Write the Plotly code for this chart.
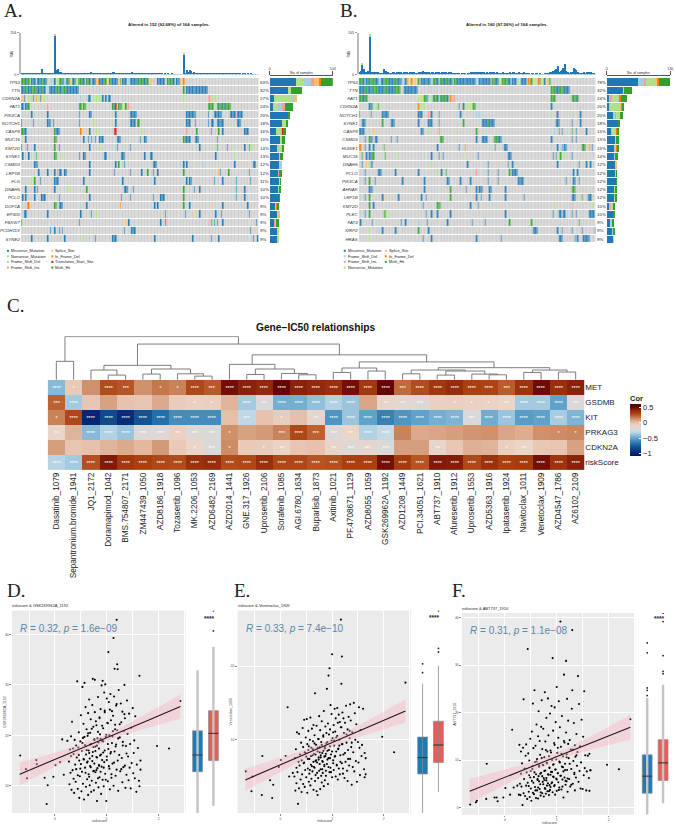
import numpy as np
import plotly.graph_objects as go

W, H = 676, 827

# ---- oncoplot data (runs of sample indexes, letter = mutation type, no letter = missense)
mut_codes = ["M", "N", "D", "I", "S", "F", "T", "H"]
mut_names = ["Missense_Mutation", "Nonsense_Mutation", "Frame_Shift_Del", "Frame_Shift_Ins",
             "Splice_Site", "In_Frame_Del", "Translation_Start_Site", "Multi_Hit"]
mut_colors = ["#1F78B4", "#B2DF8A", "#A6CEE3", "#FB9A99", "#FDBF6F", "#FF7F00", "#E31A1C", "#33A02C"]

genes_a = ["TP53", "TTN", "CDKN2A", "FAT1", "PIK3CA", "NOTCH1", "CASP8", "MUC16", "KMT2D", "SYNE1",
           "CSMD3", "LRP1B", "FLG", "DNAH5", "PCLO", "DOP1A", "EP300", "FBXW7", "PCDH11X", "SYNE2"]
pct_a = [63, 32, 27, 24, 20, 18, 16, 15, 14, 13, 12, 12, 11, 10, 10, 9, 9, 9, 9, 9]
runs_a = [
    "0-2H 3 4-5H 6N 7-9 10D 11-13 14H 15-17 18N 19S 20-22D 23 24-25N 26-27H 28-29 30D 31 32-33H 34S 35-36 37H 38N 39-41H 42-43 44N 45-46H 47 48I 49-51 52S 53F 54-56 57-58H 59N 60S 61-62H 63-66 67S 68H 69N 70-72 73S 74D 75-80 81-83H 84-85 86-87H 88N 89I 90S 91I 94-98 99I 100D 101-104H 105 106N 107-109 110-111S 112F",
    "0-2 3-4H 5-6 7-9H 10-13 14H 15-16 19-23 24-25H 26-27 28-30H 31-39 112H 114-128",
    "0-1S 2 5-7N 8 10F 11-12N 13 14-15S 16N 41D 42N 46-47 48D 50-55N 56 58 59D 60-61 112N 129-130I 131-134N",
    "0 1 2D 3-4 5H 18I 40 41H 42N 43-44H 45N 63H 64 65T 66N 67-68H 69 70-71N 72H 73-74I 113N 129-130H 131-132H 135-136H 137-138 139H 140 141-144H",
    "7 18 40 47-48 65 75-79 114-119 120 129 133-138 144-147 148I 149-152",
    "0 8 18-20 22 40 50N 65 66N 75-77 78 80-81H 114-116 120 129 131-132 135-137 138-139 144N 149-151",
    "0 1H 2-3 23H 24-26 41F 42S 46S 47 51-53N 64-65T 83N 114I 121H 131 135N 136H 139 154-156",
    "0N 3 23-24H 43 46 48 51 54-56 66-68 82 85-86 112-113H 114-116 120-122 135 142N",
    "0 4 9 23H 26 47 54N 66 75 117N 123 131N 135H 142 146N 154 157 158-160N",
    "1 5 10H 23-24H 28N 40 43-44 57-58 69-71 85 89-90 134 147N",
    "9-11 47 65 67H 71 91-93 112 114 117D 122N 125D 137N 147 160-161",
    "12 18 23 25I 26-27 30-31 47 64 75 83 87H 91 94 112H 136S 137 143H 157",
    "7N 9H 13 23-25 43 70 92 114 116-117 133 135N 139 148 158",
    "3 9 11 23 32-33N 45H 71-73 77 112H 119 123 148 154",
    "1 3 9 14-16 26 47 69 75 91 96-98 112H 148 154",
    "4-5F 23-24H 26-28 45 68F 92 94 112H 116 131S 139 156",
    "2-3 18 41 48 52N 99 113 119S 123 134 138 157",
    "0H 40 72S 74 96 99 100I 129I 131H 133 135 139 162",
    "11N 20 23 26 28 71 76-78 158",
    "7 18 30 43N 51 63-65 92 118 131 136 160 163",
]
# counts per gene in order M N D I S F T H
counts_a = [
    [43, 13, 11, 5, 9, 3, 0, 20], [30, 5, 0, 0, 0, 0, 0, 17], [7, 27, 5, 0, 6, 0, 0, 0], [5, 8, 6, 6, 0, 0, 0, 13],
    [30, 1, 0, 0, 0, 0, 0, 2], [20, 7, 0, 0, 0, 0, 0, 3], [10, 9, 0, 1, 0, 1, 1, 5], [18, 1, 0, 0, 0, 0, 0, 6],
    [12, 9, 0, 0, 0, 0, 0, 2], [16, 2, 0, 0, 0, 0, 0, 3], [15, 3, 2, 0, 0, 0, 0, 0], [14, 0, 0, 1, 1, 0, 0, 3],
    [15, 2, 0, 0, 0, 0, 0, 1], [14, 1, 0, 0, 0, 0, 0, 2], [15, 0, 0, 0, 0, 0, 0, 1], [9, 0, 0, 0, 1, 3, 0, 2],
    [13, 1, 0, 0, 1, 0, 0, 0], [7, 0, 0, 2, 1, 1, 0, 3], [13, 1, 0, 0, 0, 0, 0, 0], [13, 1, 0, 0, 0, 0, 0, 0],
]
tmb_a = [4, 8, 9, 7, 10, 8, 6, 9, 10, 7, 6, 8, 9, 11, 26, 8, 9, 8, 7, 5, 6, 7, 8, 190, 22, 28, 15, 12, 10, 9, 8, 7, 9, 8, 7, 6, 7, 6, 5, 6,
         5, 5, 6, 7, 9, 10, 8, 11, 12, 9, 7, 6, 5, 6, 5, 6, 7, 6, 5, 5, 8, 9, 10, 12, 13, 9, 8, 7, 6, 5,
         5, 6, 5, 7, 8, 11, 12, 9, 7, 6, 5, 6, 7, 8, 6, 5, 6, 5, 4, 5, 6, 5, 4, 5, 4, 4, 5, 4, 3, 4, 3, 4, 3, 3, 4, 3, 3, 2, 3, 2, 3, 2, 100,
         7, 24, 16, 22, 18, 10, 16, 6, 5, 8, 6, 7, 8, 5, 6, 5, 5, 4, 6, 5, 7, 6, 5, 6, 5, 4, 5, 8, 7, 9, 11, 8, 7, 6, 7, 5, 4, 5, 5, 3, 4,
         4, 3, 4, 3, 4, 3, 2, 3, 2, 2]
tmb_a_spikes = [23, 112]
tmb_a_caps = [7, 6]

genes_b = ["TP53", "TTN", "FAT1", "CDKN2A", "NOTCH1", "SYNE1", "CASP8", "CSMD3", "HUWE1", "MUC16",
           "DNAH5", "PCLO", "PIK3CA", "AHNAK", "LRP1B", "KMT2D", "PLEC", "FAT3", "XIRP2", "HRAS"]
pct_b = [78, 32, 24, 20, 20, 18, 15, 15, 15, 14, 12, 12, 12, 12, 12, 10, 10, 9, 9, 9]
runs_b = [
    "0 1-2H 3 4D 5-6 7H 8 9-11H 12-13 14D 15-16 17-20H 21-23 24-25H 26-29 30-31D 32 33F 34S 35N 36F 37N 38-39S 40N 41H 43-46 47H 48-49 50D 51-52H 53-54 55I 56-57H 58-59 60-61H 62-64 65N 66-67H 68-72 73-75 76-80 81-82D 83-85 86-90 91S 92-93H 94-96 97-98N 99-102H 103-104 105N 106-108 109-110N 111D 112-115 116N 117-118F 119H 120-122N 123S 124F 125H 126-127N 128 129-130S 131-132H",
    "0-3 4-5H 6-9 10-12H 13-17 18-19H 20-24 25-28H 31-40 133-135H 136-138 139-141H 142-145",
    "0-2H 3 4-5H 41N 42S 43-44N 45-46H 47 48D 49-50N 51 52-53H 54 55N 56-57H 58 59-60H 61 62N 63F 64I 65-66I 133-135H 147-149H 150 151H",
    "0N 7-8 9 10-12N 13 14N 41F 42-45N 67N 69 71S 72 73-78N 79-80H 133",
    "0H 8 16-20 41-43 48-49I 50 55 67D 70 81-84D 133N 136I 137 147N 153",
    "2-4 16H 22-24 41 48-50 55 72H 85-88 89H 90-93 136-138 147 153",
    "0H 1-3 10S 43-44 48N 55F 67N 81H 135D 138H 140 147H 150 154N 157",
    "4 7H 8-9 11-12 22 26 56-58H 81 85-88 93-95H 96-98 133 147 150",
    "0-1F 4 7 10 17H 54 69 73F 94H 100-102 133D 137 140 142-143 154-156H 159F 161",
    "2H 5 7-8 9-10H 18H 27N 42D 50 55 58 73N 82 103-105 134 136H 139H 142N 147",
    "2 5S 7N 8-9 50N 75 89 96S 103 106 137 152 157 160",
    "4 13-15 25 41 54N 57 60H 81I 89 96 104H 106-109 148 151",
    "4 7H 11 30 45 61-62 70 77 89 96 110-113 143 148-149 152",
    "7-9 45 63H 74 81 83-85 90-91 101 136N 147-149H",
    "4 7H 16 18S 27 43 46 63H 81 84 90 101 114 147-149 150N 154H 158-160",
    "7H 10 31D 44 54-56H 77 82 93D 116D 135N 147I 161N",
    "4 7H 17-18H 19-20N 46 50 54 63 101 134 138-139 141-142 147 150 159-162",
    "1 9 29 32 41D 47 61 78 87 100D 104H 118N 119H 152H",
    "7N 13D 16 25 41H 48 120-123 137 140 147 154 163",
    "7N 44 50 81 98 138-140 149 151 155-159",
]
# counts per gene in order M D I N S F H (panel B stacks nonsense later)
order_b = ["M", "D", "I", "N", "S", "F", "H"]
counts_b = [
    [64, 12, 3, 19, 5, 3, 22], [34, 0, 0, 1, 0, 0, 17], [6, 1, 3, 15, 1, 2, 12], [5, 1, 0, 20, 4, 1, 2],
    [12, 5, 2, 8, 0, 0, 6], [23, 0, 0, 0, 0, 0, 3], [9, 1, 0, 9, 1, 2, 3], [17, 0, 0, 1, 0, 0, 6],
    [15, 3, 0, 0, 1, 2, 3], [16, 1, 0, 0, 0, 0, 6], [17, 0, 0, 1, 2, 0, 0], [17, 0, 1, 1, 0, 0, 1],
    [19, 0, 0, 0, 0, 0, 1], [16, 0, 0, 2, 0, 0, 2], [16, 0, 0, 1, 1, 0, 2], [5, 3, 1, 3, 0, 0, 5],
    [13, 0, 0, 0, 0, 0, 4], [8, 2, 0, 1, 0, 0, 4], [12, 1, 0, 1, 0, 0, 1], [13, 0, 0, 1, 0, 0, 0],
]
tmb_b = [8, 10, 26, 14, 8, 6, 9, 96, 7, 6, 5, 6, 7, 6, 5, 5, 5, 14, 9, 8,
         6, 5, 5, 7, 8, 5, 6, 8, 6, 7, 5, 6, 7, 6, 5, 6, 7, 5, 6, 5,
         5, 6, 7, 8, 9, 6, 5, 7, 6, 5, 6, 8, 5, 6, 7, 6, 5, 6, 8, 7,
         6, 5, 6, 7, 5, 4, 3, 4, 3, 3, 2, 3, 4, 3, 2, 3, 5, 7, 8, 7,
         8, 7, 6, 7, 8, 7, 6, 5, 6, 5, 7, 6, 8, 7, 5, 6, 5, 4, 5, 7,
         4, 5, 3, 4, 6, 3, 6, 7, 5, 4, 6, 5, 4, 3, 6, 4, 3, 4, 2, 3,
         3, 2, 3, 4, 2, 3, 2, 2, 3, 3, 3, 4, 6, 8, 10, 12, 14, 22, 8, 10,
         12, 16, 28, 9, 7, 5, 6, 8, 18, 14, 12, 8, 5, 4, 5, 6, 5, 7, 8, 7,
         6, 5, 3, 2]
tmb_b_spikes = [2, 7]
tmb_b_caps = [3, 7]

# ---- heatmap data
drugs = ["Dasatinib_1079", "Sepantronium.bromide_1941", "JQ1_2172", "Doramapimod_1042", "BMS.754807_2171",
         "ZM447439_1050", "AZD8186_1918", "Tozasertib_1096", "MK.2206_1053", "AZD6482_2169", "AZD2014_1441",
         "GNE.317_1926", "Uprosertib_2106", "Sorafenib_1085", "AGI.6780_1634", "Buparlisib_1873", "Axitinib_1021",
         "PF.4708671_1129", "AZD8055_1059", "GSK269962A_1192", "AZD1208_1449", "PCI.34051_1621", "ABT737_1910",
         "Afuresertib_1912", "Uprosertib_1553", "AZD5363_1916", "Ipatasertib_1924", "Navitoclax_1011",
         "Venetoclax_1909", "AZD4547_1786", "AZ6102_2109"]
heat_genes = ["MET", "GSDMB", "KIT", "PRKAG3", "CDKN2A", "riskScore"]
cor_met = [-.42, -.05, .12, .27, .25, .12, .17, .15, .28, .24, .47, .42, .40, .50, .42, .40, .37, .47, .33, .50, .20, .27, .33, .38, .30, .29, .23, .35, .48, .37, .42]
cor_gsdmb = [.22, -.36, -.03, .08, -.02, -.03, .06, -.06, -.08, -.07, .03, -.36, -.20, -.46, -.46, -.40, -.33, -.38, .07, -.12, -.15, -.18, -.08, -.07, -.08, -.09, -.10, -.36, -.36, -.50, -.20]
cor_kit = [.15, .28, -.98, -.82, -.95, -.78, -.68, -.58, -.58, -.58, 0, -.30, -.02, -.06, 0, -.14, -.55, -.38, -.50, -.62, -.55, -.50, -.46, -.44, -.20, -.47, -.38, -.52, -.50, -.35, -.44]
cor_prkag3 = [-.10, .03, -.42, -.33, -.38, -.18, -.18, -.08, -.18, -.20, .12, .08, .10, .15, .28, .22, -.18, -.10, -.33, -.28, .15, .06, .07, .09, .11, .12, .07, .05, .12, .13, .14]
cor_cdkn2a = [.09, -.03, -.01, .03, .06, .02, .10, -.05, -.10, -.20, .13, -.05, -.06, -.09, -.03, -.01, -.12, -.17, -.14, -.20, .09, .09, -.12, -.04, .04, .03, -.07, -.10, -.04, -.03, .08]
cor_risk = [-.32, -.36, .26, .44, .33, .30, .28, .27, .36, .38, .27, .28, .37, .28, .28, .25, .26, .30, .30, .47, .32, .25, .44, .43, .28, .36, .30, .32, .47, .35, .42]
stars_met = [4, 1, 0, 4, 3, 0, 1, 1, 4, 3, 4, 4, 4, 4, 4, 4, 4, 4, 4, 4, 3, 4, 4, 4, 4, 4, 3, 4, 4, 4, 4]
stars_gsdmb = [3, 4, 0, 0, 0, 0, 0, 0, 1, 1, 0, 4, 2, 4, 4, 4, 4, 4, 0, 2, 2, 3, 0, 1, 1, 1, 2, 4, 4, 4, 3]
stars_kit = [1, 4, 4, 4, 4, 4, 4, 4, 4, 4, 0, 3, 0, 1, 0, 2, 4, 4, 4, 4, 4, 4, 4, 4, 3, 4, 4, 4, 4, 4, 4]
stars_prkag3 = [2, 0, 4, 4, 4, 3, 3, 2, 3, 3, 1, 0, 0, 3, 4, 3, 3, 2, 4, 4, 0, 0, 0, 0, 0, 0, 0, 0, 0, 1, 1]
stars_cdkn2a = [0, 0, 0, 0, 0, 0, 0, 0, 1, 3, 1, 0, 1, 2, 0, 0, 2, 3, 3, 3, 0, 0, 2, 0, 0, 0, 1, 2, 0, 0, 0]
stars_risk = [4] * 31
cor_ticks = [-1, -0.5, 0, 0.5]
cor_tick_text = ["\u22121", "\u22120.5", "0", "0.5"]
# dendrogram merges (left node, right node, height); new nodes are numbered from 31
dendro_merges = [
    (0, 1, 18.3), (3, 4, 4.7), (2, 32, 9.7), (5, 6, 5.7), (8, 9, 3.7), (7, 35, 6), (34, 36, 10.7), (33, 37, 14.3),
    (11, 12, 5.3), (14, 15, 5), (13, 40, 6.3), (39, 41, 10.7), (10, 42, 15.3), (16, 17, 7.3), (18, 19, 8.7),
    (44, 45, 11.7), (20, 21, 6), (22, 23, 4.7), (25, 26, 5), (24, 49, 5.7), (48, 50, 8.7), (47, 51, 9.7),
    (27, 28, 7.3), (29, 30, 7.7), (53, 54, 9.7), (52, 55, 12), (46, 56, 17.7), (43, 57, 24.7), (38, 58, 35.3), (31, 59, 42.7),
]

# ---- scatter data, the same samples on x in D, E and F
riskscore = [-.67, -.56, -.54, -.36, -.35, -.2, -.16, -.14, -.03, .01, .1, .14, .17, .24,
             .27, .28, .29, .30, .31, .31, .32, .33, .34, .35, .36, .36, .37, .38, .39, .40, .41, .41, .42, .43,
             .44, .44, .45, .46, .47, .47, .48, .49, .50, .50, .51, .52, .52, .53, .54, .54, .55, .56, .56, .57,
             .58, .58, .59, .60, .60, .61, .62, .62, .63, .64, .64, .65, .65, .66, .67, .67, .68, .68, .69, .70,
             .70, .71, .72, .72, .73, .73, .74, .75, .75, .76, .77, .77, .78, .78, .79, .80, .80, .81, .82, .82,
             .83, .84, .84, .85, .86, .86, .87, .87, .88, .89, .90, .90, .91, .92, .92, .93, .93, .94, .95, .95,
             .96, .97, .97, .98, .99, 1.0, 1.0, 1.01, 1.02, 1.03, 1.03, 1.04, 1.05, 1.05, 1.06, 1.07, 1.07, 1.08, 1.09, 1.1,
             1.1, 1.11, 1.12, 1.13, 1.13, 1.14, 1.15, 1.15, 1.16, 1.17, 1.18, 1.18, 1.19, 1.19, 1.2, 1.2, 1.21, 1.22, 1.23, 1.24,
             1.25, 1.26, 1.27, 1.28, 1.29, 1.3, 1.3, 1.31, 1.32, 1.33, 1.34, 1.35, 1.35, 1.36, 1.37, 1.38, 1.39, 1.4, 1.41, 1.42,
             1.43, 1.44, 1.45, 1.46, 1.47, 1.48, 1.5, 1.51, 1.52, 1.53, 1.54, 1.55, 1.57, 1.58, 1.6, 1.62, 1.63, 1.63, 1.65, 1.65,
             1.97, 2.2, 2.42,
             .46, .49, .53, .55, .57, .59, .61, .63, .64, .66, .66, .68, .69, .71, .72, .74, .74, .76, .76, .78,
             .79, .8, .81, .81, .83, .83, .85, .85, .86, .88, .88, .89, .91, .91, .93, .94, .96, .96, .98, .99,
             1.0, 1.02, 1.02, 1.04, 1.06, 1.08, 1.09, 1.11, 1.12, 1.14, 1.16, 1.17, 1.19, 1.21, 1.22, 1.25, 1.28, 1.31, 1.34, 1.38]
gsk269962a = [16.0, 13.3, 11.5, 15.1, 14.3, 11.6, 6.4, 10.1, 11.8, 14.1, 14.7, 19.2, 12.2, 18.9,
              14.8, 10.3, 17.2, 12.6, 19.8, 15.9, 9.2, 22.7, 13.1, 17.4, 11.4, 16.3, 8.6, 19.1, 14.2, 10.8, 18.0, 13.3, 15.6, 30.7,
              12.1, 9.4, 17.6, 20.6, 15.0, 7.6, 11.9, 18.8, 14.3, 24.0, 8.9, 16.9, 12.8, 29.6, 19.5, 10.4, 22.3, 15.2, 7.3, 30.4,
              13.6, 18.1, 25.6, 9.8, 16.2, 21.2, 11.3, 14.6, 19.9, 8.2, 24.4, 12.3, 17.0, 27.1, 15.4, 10.1, 20.5, 13.9, 23.2, 8.8,
              18.3, 11.0, 26.0, 14.9, 16.7, 31.2, 21.7, 9.1, 13.0, 19.2, 31.0, 24.6, 12.7, 17.8, 10.6, 22.0, 15.7, 7.0, 19.4, 13.5,
              27.6, 9.7, 18.6, 14.1, 23.6, 11.7, 20.2, 16.0, 25.2, 8.4, 13.8, 29.9, 18.9, 30.8, 11.2, 21.4, 16.6, 9.9, 28.5, 14.7,
              24.9, 30.1, 12.4, 19.7, 7.0, 27.3, 15.1, 22.5, 10.9, 36.5, 17.3, 26.6, 13.4, 20.0, 9.3, 28.2, 16.4, 23.0, 11.6, 18.5,
              24.8, 14.4, 20.8, 39.3, 10.0, 27.7, 33.2, 16.8, 22.1, 12.0, 25.9, 18.2, 42.9, 13.2, 34.1, 21.0, 33.1, 9.0, 29.0, 16.1,
              19.6, 12.9, 26.3, 22.6, 15.5, 10.7, 24.7, 18.7, 13.7, 20.9, 30.0, 14.0, 23.4, 9.6, 17.9, 12.2, 26.9, 20.3, 15.8, 11.1,
              24.3, 13.6, 18.3, 9.5, 21.5, 14.5, 25.4, 12.5, 16.5, 19.0, 11.5, 23.8, 8.8, 14.2, 17.5, 11.0, 31.8, 9.9, 15.0, 13.2,
              17.9, 17.4, 26.8,
              16.1, 13.4, 18.5, 15.3, 19.7, 12.6, 17.1, 14.8, 20.4, 16.5, 11.8, 18.2, 13.7, 21.3, 15.9, 17.7, 12.9, 19.1, 14.4, 16.9,
              22.8, 13.1, 18.0, 15.6, 20.7, 11.5, 17.4, 14.0, 23.4, 19.3, 12.8, 16.2, 21.9, 15.1, 18.8, 13.6, 24.6, 17.0, 11.2, 20.1,
              15.8, 22.4, 18.3, 13.9, 25.1, 16.7, 12.3, 19.8, 23.9, 14.6, 21.2, 17.8, 26.2, 15.0, 19.4, 22.2, 13.3, 18.0, 24.2, 16.4]
venetoclax = [5.7, 3.0, 5.0, 2.5, 7.8, 4.5, 2.1, 3.9, 6.3, 7.25, 7.8, 14.4, 5.0, 5.5,
              5.0, 7.5, 3.1, 8.7, 6.2, 4.1, 11.0, 5.6, 1.3, 7.0, 3.4, 10.8, 6.5, 8.0, 4.6, 9.6, 2.9, 7.2, 5.3, 11.6,
              4.0, 9.0, 6.8, 12.7, 3.6, 8.3, 5.9, 10.3, 7.7, 4.9, 12.8, 2.8, 9.4, 6.1, 8.6, 11.2, 4.3, 7.4, 5.4, 10.0,
              3.8, 13.0, 6.6, 8.9, 4.7, 11.5, 7.9, 5.7, 9.8, 3.2, 12.0, 6.3, 8.1, 10.6, 4.4, 16.3, 7.1, 5.2, 9.3, 3.0,
              11.9, 6.9, 8.4, 2.5, 10.1, 4.8, 7.3, 13.2, 5.8, 9.0, 3.3, 11.3, 7.6, 6.0, 9.7, 4.2, 12.5, 8.2, 5.5, 7.0,
              10.4, 3.7, 13.9, 6.4, 8.8, 4.5, 11.8, 7.8, 5.1, 9.5, 16.9, 6.7, 8.5, 12.2, 4.0, 18.7, 7.5, 10.7, 5.6, 19.7,
              9.1, 14.7, 6.2, 8.0, 13.5, 21.6, 4.9, 10.2, 7.2, 12.0, 5.9, 9.9, 14.2, 7.7, 11.1, 5.0, 12.9, 8.4, 6.6, 14.3,
              10.5, 4.6, 8.7, 13.4, 6.1, 9.2, 12.4, 5.3, 7.9, 26.3, 17.6, 11.7, 21.3, 6.8, 9.4, 13.7, 5.4, 8.0, 10.9, 4.8,
              12.3, 7.0, 14.6, 9.6, 5.8, 11.4, 4.4, 8.6, 13.1, 6.5, 10.2, 14.8, 7.4, 12.6, 9.0, 3.9, 11.0, 6.3, 8.3, 15.0,
              5.7, 13.6, 10.0, 7.1, 12.1, 4.3, 9.7, 6.9, 14.4, 8.9, 5.2, 11.3, 7.8, 9.3, 14.2, 6.0, 8.2, 4.9, 5.3, 7.5,
              10.4, 8.3, 17.75,
              6.9, 8.2, 7.4, 9.1, 5.9, 7.8, 6.4, 8.7, 7.0, 9.5, 6.2, 8.0, 7.2, 5.5, 8.9, 7.6, 10.1, 6.7, 8.3, 7.9,
              5.1, 9.3, 7.1, 6.0, 8.5, 10.6, 7.7, 6.6, 9.0, 5.8, 8.1, 10.9, 7.3, 9.7, 6.3, 8.6, 11.4, 7.5, 5.6, 9.9,
              8.4, 6.8, 11.0, 9.2, 7.8, 10.3, 6.5, 12.3, 8.8, 10.0, 7.0, 11.7, 9.4, 6.1, 12.9, 8.2, 10.7, 7.4, 11.2, 9.6]
abt737 = [0.6, 1.1, 1.4, 1.8, 9.2, 2.1, 2.1, 1.3, 2.1, 4.1, 2.7, 16.4, 4.2, 4.6,
          2.7, 13.2, 5.0, 2.6, 11.8, 7.1, 4.4, 9.3, 0.5, 12.6, 3.0, 22.8, 6.0, 8.2, 2.4, 10.9, 4.6, 13.3, 7.4, 1.8,
          33.4, 5.2, 11.4, 3.3, 9.9, 6.8, 2.2, 14.5, 4.0, 7.7, 1.4, 16.0, 5.6, 8.7, 3.1, 21.9, 12.5, 2.8, 6.4, 24.7,
          9.6, 4.3, 13.0, 2.0, 7.0, 17.5, 3.6, 10.2, 5.8, 15.0, 1.9, 20.3, 6.6, 8.9, 3.9, 14.0, 11.1, 4.9, 2.5, 17.0,
          7.3, 22.6, 3.0, 12.3, 5.4, 9.0, 16.6, 2.3, 6.2, 10.6, 24.3, 4.1, 13.9, 7.8, 2.9, 18.9, 5.7, 9.4, 3.4, 11.8,
          23.0, 6.9, 15.2, 2.6, 8.4, 4.7, 19.8, 3.7, 12.0, 7.5, 5.1, 21.4, 10.0, 31.5, 3.2, 16.2, 6.5, 9.1, 4.5, 13.6,
          21.1, 2.7, 8.0, 18.0, 6.1, 25.4, 3.5, 11.5, 7.2, 14.7, 5.3, 22.4, 9.7, 4.2, 16.9, 39.2, 6.7, 12.8, 3.8, 8.6,
          19.3, 5.9, 10.8, 7.6, 2.1, 28.0, 13.7, 6.3, 9.2, 4.8, 30.9, 15.8, 5.5, 11.2, 22.9, 7.9, 3.3, 18.3, 10.4, 6.0,
          14.2, 4.4, 12.2, 8.1, 20.8, 37.4, 24.7, 5.0, 9.8, 17.8, 7.0, 13.1, 3.6, 10.7, 6.3, 15.5, 8.8, 11.7, 27.7, 5.4,
          21.8, 7.7, 12.9, 4.0, 9.5, 18.5, 3.9, 14.9, 6.8, 24.5, 8.3, 11.0, 3.6, 7.6, 10.9, 6.2, 11.3, 3.5, 7.8, 7.9,
          9.0, 8.05, 18.6,
          4.5, 6.3, 8.1, 5.2, 7.4, 3.6, 9.7, 6.0, 4.2, 8.6, 5.5, 7.1, 3.2, 10.4, 6.6, 4.9, 8.9, 5.8, 7.7, 3.9,
          12.1, 6.2, 4.6, 9.3, 7.0, 5.1, 10.8, 3.4, 8.3, 6.9, 4.3, 11.6, 7.5, 5.3, 9.0, 6.4, 13.2, 4.7, 8.0, 10.1,
          5.9, 7.2, 12.6, 3.7, 9.5, 6.7, 11.3, 4.4, 8.5, 14.0, 7.9, 5.6, 10.6, 6.1, 13.4, 9.2, 4.8, 12.2, 7.3, 11.0]
# regression line and confidence band
reg_x = [-.68, 0, .5, .9, 1.3, 1.8, 2.42]
reg_d = [12.3, 15.2, 17.4, 19.1, 20.85, 23.0, 25.7]
ci_d = [2.3, 1.4, .85, .75, .9, 1.5, 2.4]
reg_e = [4.55, 6.6, 8.1, 9.3, 10.5, 12.0, 13.9]
ci_e = [1.5, 1.0, .6, .55, .65, 1.05, 1.55]
reg_f = [3.4, 6.35, 8.5, 10.3, 12.0, 14.2, 16.9]
ci_f = [2.6, 1.6, 1.0, .85, 1.0, 1.6, 2.6]
# box stats: lower fence, q1, median, q3, upper fence (low group, high group)
box_d = [[4.6, 12.8, 16.1, 20.9, 32.9], [6.05, 15.0, 20.4, 24.9, 37.5]]
box_e = [[0.05, 5.36, 7.57, 10.36, 17.6], [2.9, 6.9, 9.28, 12.5, 20.05]]
box_f = [[-1.5, 3.0, 6.6, 11.1, 23.1], [0.9, 5.7, 9.4, 14.3, 25.9]]
out_d = [[], [40.7, 44.7]]
out_e = [[19.1, 20.3], [21.9, 22.4, 27.5]]
out_f = [[23.6, 24.7, 25.2, 32.6, 34.7], [28.2, 28.7, 32.0, 39.2, 41.0]]

fig = go.Figure()
layout = {}
notes = []
rects = []
n_axes = 0


def new_axes(x0, y0, x1, y1, xkw, ykw):
    # x0..y1 are page pixels from the top left corner
    global n_axes
    n_axes += 1
    s = "" if n_axes == 1 else str(n_axes)
    layout["xaxis" + s] = dict(domain=[x0 / W, x1 / W], anchor="y" + s, **xkw)
    layout["yaxis" + s] = dict(domain=[1 - y1 / H, 1 - y0 / H], anchor="x" + s, **ykw)
    return "x" + s, "y" + s


def note(x, y, text, size, color="#222222", anchor="left", family=None, angle=0):
    font = dict(size=size, color=color)
    if family:
        font["family"] = family
    notes.append(dict(x=x / W, y=1 - y / H, xref="paper", yref="paper", text=text, showarrow=False, font=font,
                      xanchor=anchor, yanchor="middle", textangle=angle, borderpad=0, borderwidth=0))


OFF = dict(visible=False, showgrid=False, zeroline=False)


def parse_runs(text):
    row = [0] * 164
    for tok in text.split():
        code = "M"
        if tok[-1].isalpha():
            code = tok[-1]
            tok = tok[:-1]
        a, _, b = tok.partition("-")
        for i in range(int(a), int(b or a) + 1):
            row[i] = mut_codes.index(code) + 1
    return row


def draw_onco(x0, x1, rx0, rx1, genes, pct, runs, counts, order, tmb, spikes, caps, cap_color, tmb_max, right_max):
    # sample burden bars on top
    xa, ya = new_axes(x0, 30.7, x1, 72.7, dict(range=[-0.5, 163.5], **OFF),
                      dict(range=[0, tmb_max], tickvals=[0, tmb_max], ticks="outside", ticklen=2, tickcolor="#999999",
                           tickfont=dict(size=3.6, color="#333333"), showline=True, linecolor="#bbbbbb", linewidth=1.6,
                           showgrid=False, zeroline=False))
    fig.add_trace(go.Bar(x=list(range(164)), y=tmb, marker=dict(color=mut_colors[0], line_width=0), width=1, xaxis=xa, yaxis=ya))
    fig.add_trace(go.Bar(x=spikes, y=caps, base=[tmb[i] for i in spikes], marker=dict(color=cap_color, line_width=0), width=1, xaxis=xa, yaxis=ya))

    # mutation matrix
    stops = []
    cols = ["#CCCCCC"] + mut_colors
    for i, c in enumerate(cols):
        stops += [[i / len(cols), c], [(i + 1) / len(cols), c]]
    xm, ym = new_axes(x0, 76.3, x1, 242.5, dict(range=[-0.5, 163.5], **OFF),
                      dict(range=[19.5, -0.5], tickvals=list(range(20)), ticktext=["<i>%s</i>" % g for g in genes],
                           tickfont=dict(size=4.4, color="#333333"), ticks="", ticklen=0, showgrid=False, zeroline=False, showline=False))
    fig.add_trace(go.Heatmap(z=[parse_runs(r) for r in runs], zmin=-0.5, zmax=8.5, colorscale=stops, showscale=False,
                             xgap=0.3, ygap=1, hoverinfo="skip", xaxis=xm, yaxis=ym))
    for i, p in enumerate(pct):
        note(x1 + 1.5, 76.3 + (i + 0.5) * 8.31, "%d%%" % p, 4.4)

    # stacked counts on the right
    xr, yr = new_axes(rx0, 74, rx1, 242.5,
                      dict(range=[0, right_max], side="top", tickvals=[0, right_max], ticks="outside", ticklen=3.5, tickcolor="#555555",
                           tickfont=dict(size=3.6, color="#333333"), showline=True, linecolor="#555555", linewidth=0.6, showgrid=False, zeroline=False),
                      dict(range=[19.5, -0.74], visible=False, showgrid=False, zeroline=False))
    for j, code in enumerate(order):
        fig.add_trace(go.Bar(x=[row[j] for row in counts], y=list(range(20)), orientation="h", width=0.88,
                             marker=dict(color=mut_colors[mut_codes.index(code)], line_width=0), xaxis=xr, yaxis=yr))
    note((rx0 + rx1) / 2, 71.3, "No. of samples", 3.4, anchor="center")


def legend_block(x, y_start, entries):
    for i, code in enumerate(entries):
        y = y_start + i * 5.6
        rects.append(dict(type="rect", xref="paper", yref="paper", x0=(x - 1) / W, x1=(x + 1) / W,
                          y0=1 - (y + 1) / H, y1=1 - (y - 1) / H, line_width=0, fillcolor=mut_colors[mut_codes.index(code)]))
        note(x + 3, y, mut_names[mut_codes.index(code)], 3.9)


# ---- A and B
draw_onco(19, 258.5, 269.7, 333.3, genes_a, pct_a, runs_a, counts_a, mut_codes, tmb_a, tmb_a_spikes, tmb_a_caps, "#FDBF6F", 204, 104)
draw_onco(359.3, 598.3, 609.3, 673.3, genes_b, pct_b, runs_b, counts_b, order_b, tmb_b, tmb_b_spikes, tmb_b_caps, "#B2DF8A", 105, 130)
note(168, 22.7, "<b>Altered in 152 (92.68%) of 164 samples.</b>", 4.4, anchor="center")
note(508.7, 22.7, "<b>Altered in 160 (97.56%) of 164 samples.</b>", 4.4, anchor="center")
note(10, 52, "TMB", 3.2, anchor="center", angle=-90)
note(349.5, 52, "TMB", 3.2, anchor="center", angle=-90)
legend_block(6, 250, ["M", "N", "D", "I"])
legend_block(50.7, 250, ["S", "F", "T", "H"])
legend_block(345.3, 250, ["M", "D", "I", "N"])
legend_block(386.7, 250, ["S", "F", "H"])

# ---- C heatmap
cor = [cor_met, cor_gsdmb, cor_kit, cor_prkag3, cor_cdkn2a, cor_risk]
stars = [[("*" * s) for s in row] for row in [stars_met, stars_gsdmb, stars_kit, stars_prkag3, stars_cdkn2a, stars_risk]]
zlo, zhi = -1.07, 0.6
cor_colors = [(-1.07, "#04155c"), (-1, "#04226f"), (-.8, "#114e8e"), (-.7, "#1f6aa5"), (-.6, "#3f86b8"), (-.5, "#5fa3cb"), (-.4, "#92c0da"),
              (-.3, "#c0d8e6"), (-.2, "#d9d9d9"), (-.1, "#ebd4c8"), (0, "#e6bfa8"), (.1, "#d39a78"), (.2, "#c06a3a"), (.3, "#a9400f"),
              (.4, "#8f2a0c"), (.5, "#650505"), (.6, "#4f0000")]
cor_scale = [[(v - zlo) / (zhi - zlo), c] for v, c in cor_colors]

xh, yh = new_axes(46, 379.7, 586.7, 470.3,
                  dict(range=[-0.5, 30.5], tickvals=list(range(31)), ticktext=drugs, tickangle=-90, ticks="", showgrid=False, zeroline=False,
                       tickfont=dict(size=8.2, color="#222222")),
                  dict(range=[5.5, -0.5], side="right", tickvals=list(range(6)), ticktext=heat_genes, ticks="", showgrid=False, zeroline=False,
                       tickfont=dict(size=8, color="#222222")))
fig.add_trace(go.Heatmap(z=cor, text=stars, texttemplate="%{text}", textfont=dict(size=5.5, color="white"), zmin=zlo, zmax=zhi,
                         colorscale=cor_scale, hoverinfo="skip", xaxis=xh, yaxis=yh,
                         colorbar=dict(x=633 / W, xanchor="left", xpad=0, ypad=0, y=1 - 404 / H, yanchor="top", len=52 / H, lenmode="fraction",
                                       thickness=11, thicknessmode="pixels", tickvals=cor_ticks, ticktext=cor_tick_text, ticks="inside", ticklen=2,
                                       tickcolor="white", tickfont=dict(size=7.5, color="#222222"), outlinewidth=0)))
note(633, 398, "<b>Cor</b>", 7.5)
note(316.5, 326.7, "<b>Gene\u2212IC50 relationships</b>", 10.2, color="#111111", anchor="center")

# dendrogram: walk the merges and draw each bracket
xd, yd = new_axes(46, 336, 586.7, 379.7, dict(range=[-0.5, 30.5], **OFF), dict(range=[0, 42.9], **OFF))
node_x = {i: float(i) for i in range(31)}
node_h = {i: 0.0 for i in range(31)}
den_x, den_y = [], []
for k, (a, b, h) in enumerate(dendro_merges):
    den_x += [node_x[a], node_x[a], node_x[b], node_x[b], None]
    den_y += [node_h[a], h, h, node_h[b], None]
    node_x[31 + k] = (node_x[a] + node_x[b]) / 2
    node_h[31 + k] = h
fig.add_trace(go.Scatter(x=den_x, y=den_y, mode="lines", line=dict(color="#6e6e6e", width=0.9), hoverinfo="skip", xaxis=xd, yaxis=yd))


# ---- D, E, F
def draw_scatter(x0, x1, y0, y1, yrange, yticks, values, reg, ci, stat, title, ytitle, tx, ty, bx, boxes, outliers, wcolor, wwidth):
    grid = dict(showgrid=True, gridcolor="white", gridwidth=0.7, zeroline=False, ticks="outside", ticklen=1.5, tickcolor="#888888",
                tickfont=dict(size=3.4, color="#555555"))
    xa, ya = new_axes(x0, y0, x1, y1,
                      dict(range=[-0.83, 2.54], tickvals=[0, 1, 2], minor=dict(dtick=0.5, tick0=0, showgrid=True, gridcolor="white", gridwidth=0.3), **grid),
                      dict(range=yrange, tickvals=yticks, **grid))
    # grey panel goes under the grid
    rects.append(dict(type="rect", xref="paper", yref="paper", x0=x0 / W, x1=x1 / W, y0=1 - y1 / H, y1=1 - y0 / H,
                      line_width=0, fillcolor="#ebebeb", layer="below"))
    low = [r - c for r, c in zip(reg, ci)]
    up = [r + c for r, c in zip(reg, ci)]
    fig.add_trace(go.Scatter(x=riskscore, y=values, mode="markers", marker=dict(color="black", size=2.1, line_width=0), xaxis=xa, yaxis=ya))
    fig.add_trace(go.Scatter(x=reg_x + reg_x[::-1], y=up + low[::-1], mode="lines", fill="toself", fillcolor="rgba(250,180,195,0.42)",
                             line=dict(width=0), xaxis=xa, yaxis=ya))
    fig.add_trace(go.Scatter(x=reg_x, y=reg, mode="lines", line=dict(color="#1a1a1a", width=1.1), xaxis=xa, yaxis=ya))
    note(x0 + 8.5, y0 + 18, "<i>R</i> = " + stat[0] + ", <i>p</i> = " + stat[1], 10, color="#5b86a8")
    note(x0, y0 - 5, title, 4.0)
    note((x0 + x1) / 2 + 0, y1 + 8, "riskscore", 3.8, anchor="center", color="#444444")
    note(x0 - 7, (y0 + y1) / 2, ytitle, 3.6, anchor="center", angle=-90, color="#444444")

    # two boxes on their own axes, 16 px apart
    xb, yb = new_axes(bx - 12, y0, min(bx + 28, W), y1, dict(range=[-0.75, (min(bx + 28, W) - bx) / 16], **OFF), dict(range=yrange, **OFF))
    for i, (st, col) in enumerate(zip(boxes, ["#1a7db8", "#ef5a5a"])):
        # whisker first so the box sits on top of it
        fig.add_trace(go.Scatter(x=[i, i], y=[st[0], st[4]], mode="lines", line=dict(color=wcolor, width=wwidth), xaxis=xb, yaxis=yb))
        fig.add_trace(go.Box(x=[i], lowerfence=[st[1]], q1=[st[1]], median=[st[2]], q3=[st[3]], upperfence=[st[3]], width=0.62, whiskerwidth=0,
                             fillcolor=col, line=dict(color="#8a8a8a", width=0.7), boxpoints=False, xaxis=xb, yaxis=yb))
        fig.add_trace(go.Scatter(x=[i - 0.31, i + 0.31], y=[st[2], st[2]], mode="lines", line=dict(color="#222222", width=0.9), xaxis=xb, yaxis=yb))
        fig.add_trace(go.Scatter(x=[i] * len(outliers[i]), y=outliers[i], mode="markers", marker=dict(color="#222222", size=1.8), xaxis=xb, yaxis=yb))
    note(tx, ty, "<b>****</b>", 6.5, anchor="center")


draw_scatter(10, 186, 611.7, 815, [4.6, 44.7], [10, 20, 30, 40], gsk269962a, reg_d, ci_d, ("0.32", "1.6e\u221209"), "riskscore &amp; GSK269962A_1192",
             "GSK269962A_1192", 209, 619, 197, box_d, out_d, "#c4c4c4", 2.4)
draw_scatter(237.3, 412.7, 611.7, 815, [0.05, 27.5], [10, 20], venetoclax, reg_e, ci_e, ("0.33", "7.4e\u221210"), "riskscore &amp; Venetoclax_1909",
             "Venetoclax_1909", 435.7, 618, 423.7, box_e, out_e, "#8a8a8a", 0.8)
draw_scatter(463.3, 639.3, 614, 816.7, [-1.54, 41], [0, 10, 20, 30, 40], abt737, reg_f, ci_f, ("0.31", "1.1e\u221208"), "riskscore &amp; ABT737_1910",
             "ABT737_1910", 662.7, 619, 650, box_f, out_f, "#c4c4c4", 2.4)

# panel letters
for txt, lx, ly in [("A.", 2, 9), ("B.", 341, 9), ("C.", 5, 305), ("D.", 5, 591), ("E.", 234, 591), ("F.", 453, 591)]:
    note(lx, ly, txt, 19, color="#222222", family="Liberation Serif")

fig.update_layout(width=W, height=H, margin=dict(l=0, r=0, t=0, b=0, pad=0), paper_bgcolor="white", plot_bgcolor="white",
                  font=dict(family="Liberation Sans"), showlegend=False, barmode="stack", bargap=0, annotations=notes, shapes=rects, **layout)
fig.write_html("out.html", post_script="document.body.style.margin='0';", config={"displayModeBar": False})
